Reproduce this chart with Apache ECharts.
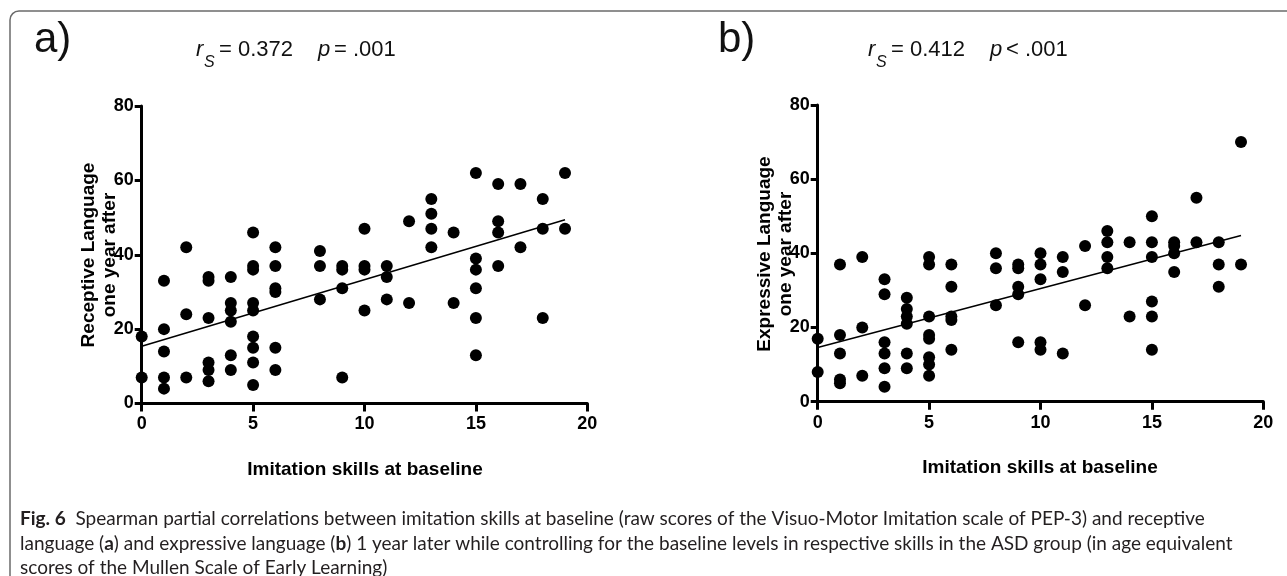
<!DOCTYPE html>
<html>
<head>
<meta charset="utf-8">
<script src="https://cdn.jsdelivr.net/npm/echarts@6/dist/echarts.min.js"></script>
<style>
html,body{margin:0;padding:0;background:#fff;}
#chart{width:1287px;height:576px;}
</style>
</head>
<body>
<div id="chart"></div>
<script>
// ---- Data ----
const xTicks = [0, 5, 10, 15, 20];
const yTicks = [0, 20, 40, 60, 80];

// Panel a: imitation skills at baseline vs receptive language one year after
const imitationA = [0,0, 1,1,1,1,1, 2,2,2, 3,3,3,3,3,3, 4,4,4,4,4,4, 5,5,5,5,5,5,5,5,5, 6,6,6,6,6,6, 8,8,8, 9,9,9,9, 10,10,10,10, 11,11,11, 12,12, 13,13,13,13, 14,14, 15,15,15,15,15,15, 16,16,16,16, 17,17, 18,18,18, 19,19];
const receptive  = [18,7, 33,20,14,7,4, 42,24,7, 34,33,23,11,9,6, 34,27,25,22,13,9, 46,37,36,27,25,18,15,11,5, 42,37,31,30,15,9, 41,37,28, 37,36,31,7, 47,37,36,25, 37,34,28, 49,27, 55,51,47,42, 46,27, 62,39,36,31,23,13, 59,49,46,37, 59,42, 55,47,23, 62,47];
const trendA = [[0, 15.4], [19, 49.4]];

// Panel b: imitation skills at baseline vs expressive language one year after
const imitationB = [0,0, 1,1,1,1,1, 2,2,2, 3,3,3,3,3,3, 4,4,4,4,4,4, 5,5,5,5,5,5,5,5, 6,6,6,6,6, 8,8,8, 9,9,9,9,9, 10,10,10,10,10, 11,11,11, 12,12, 13,13,13,13, 14,14, 15,15,15,15,15,15, 16,16,16,16, 17,17, 18,18,18, 19,19];
const expressive = [17,8, 37,18,13,6,5, 39,20,7, 33,29,16,13,9,4, 28,25,23,21,13,9, 39,37,23,18,17,12,10,7, 37,31,23,22,14, 40,36,26, 37,36,31,29,16, 40,37,33,16,14, 39,35,13, 42,26, 46,43,39,36, 43,23, 50,43,39,27,23,14, 43,42,40,35, 55,43, 43,37,31, 70,37];
const trendB = [[0, 14.6], [19, 44.8]];

const statsA = {r: '= 0.372', p: '= .001'};
const statsB = {r: '= 0.412', p: '< .001'};
const panelLabels = ['a)', 'b)'];
const yTitlesA = ['Receptive Language', 'one year after'];
const yTitlesB = ['Expressive Language', 'one year after'];
const xTitle = 'Imitation skills at baseline';
const captionLines = [
  ['Fig. 6', '  Spearman partial correlations between imitation skills at baseline (raw scores of the Visuo-Motor Imitation scale of PEP-3) and receptive'],
  ['language (', 'a', ') and expressive language (', 'b', ') 1 year later while controlling for the baseline levels in respective skills in the ASD group (in age equivalent'],
  ['scores of the Mullen Scale of Early Learning)']
];

// ---- Chart ----
const chart = echarts.init(document.getElementById('chart'), null, {renderer: 'canvas'});
const AX = 'Liberation Sans, Arial, sans-serif';
const capFont = 'Lato, Noto Sans, sans-serif';

// fit caption font size so that the first caption line spans the same width as in the figure
const mctx = document.createElement('canvas').getContext('2d');
mctx.font = 'bold 100px ' + capFont;
let w100 = mctx.measureText(captionLines[0][0]).width;
mctx.font = '100px ' + capFont;
w100 += mctx.measureText(captionLines[0][1]).width;
const capSize = Math.max(12, Math.min(19, 100 * 1237 / w100));

function pairs(xs, ys) { return xs.map((x, i) => [x, ys[i]]); }

function xAxisDef(gi) {
  return {
    gridIndex: gi, type: 'value', min: xTicks[0], max: xTicks[xTicks.length-1], interval: xTicks[1]-xTicks[0],
    axisLine: {show: true, onZero: false, lineStyle: {color: '#000', width: 3}},
    axisTick: {show: true, inside: false, length: 8, lineStyle: {color: '#000', width: 3}},
    axisLabel: {color: '#000', fontFamily: AX, fontWeight: 'bold', fontSize: 18, margin: 12},
    splitLine: {show: false}
  };
}
function yAxisDef(gi) {
  return {
    gridIndex: gi, type: 'value', min: yTicks[0], max: yTicks[yTicks.length-1], interval: yTicks[1]-yTicks[0],
    axisLine: {show: true, onZero: false, lineStyle: {color: '#000', width: 3}},
    axisTick: {show: true, inside: false, length: 7, lineStyle: {color: '#000', width: 3}},
    axisLabel: {color: '#000', fontFamily: AX, fontWeight: 'bold', fontSize: 18, margin: 8},
    splitLine: {show: false}
  };
}

function statTexts(x0, stats) {
  const base = {fill: '#111', fontFamily: AX, fontSize: 22};
  return [
    {type: 'text', left: x0, top: 39, style: Object.assign({}, base, {text: 'r', fontStyle: 'italic'})},
    {type: 'text', left: x0 + 8, top: 55, style: Object.assign({}, base, {text: 'S', fontStyle: 'italic', fontSize: 16})},
    {type: 'text', left: x0 + 23, top: 39, style: Object.assign({}, base, {text: stats.r})},
    {type: 'text', left: x0 + 122, top: 39, style: Object.assign({}, base, {text: 'p', fontStyle: 'italic'})},
    {type: 'text', left: x0 + 138, top: 39, style: Object.assign({}, base, {text: stats.p})}
  ];
}

function rotTitle(x, y, text) {
  return {type: 'text', x: x, y: y, rotation: Math.PI/2,
    style: {text: text, fill: '#000', fontFamily: AX, fontWeight: 'bold', fontSize: 19, textAlign: 'center', textVerticalAlign: 'middle'}};
}

const capBase = {fill: '#231f20', fontFamily: capFont, fontSize: capSize};
const capRich = {b: Object.assign({}, capBase, {fontWeight: 'bold'}), n: Object.assign({}, capBase)};
function capLine(parts, y, firstBold) {
  const txt = parts.map((p, i) => ((i % 2 === 0) !== !!firstBold ? '{n|' : '{b|') + p + '}');
  return {type: 'text', x: 20, y: y, style: {text: txt.join(''), textVerticalAlign: 'middle', rich: capRich}};
}

const graphics = [
  {type: 'rect', shape: {x: 10, y: 11, width: 1320, height: 600, r: 9}, style: {fill: 'none', stroke: '#6b6b6b', lineWidth: 1.5}, z: -1},
  {type: 'text', left: 34, top: 19, style: {text: panelLabels[0], fill: '#111', fontFamily: AX, fontSize: 42}},
  {type: 'text', left: 718, top: 19, style: {text: panelLabels[1], fill: '#111', fontFamily: AX, fontSize: 42}},
  ...statTexts(196, statsA),
  ...statTexts(868, statsB),
  rotTitle(89, 255, yTitlesA[0]),
  rotTitle(110, 255, yTitlesA[1]),
  rotTitle(765, 254, yTitlesB[0]),
  rotTitle(786, 254, yTitlesB[1]),
  {type: 'text', x: 365, y: 470, style: {text: xTitle, fill: '#000', fontFamily: AX, fontWeight: 'bold', fontSize: 19, textAlign: 'center', textVerticalAlign: 'middle'}},
  {type: 'text', x: 1040, y: 468, style: {text: xTitle, fill: '#000', fontFamily: AX, fontWeight: 'bold', fontSize: 19, textAlign: 'center', textVerticalAlign: 'middle'}},
  capLine(captionLines[0], 519, true),
  capLine(captionLines[1], 544, false),
  capLine(captionLines[2], 568, false)
];

const dotStyle = {color: '#000', opacity: 1};
const option = {
  animation: false,
  backgroundColor: '#fff',
  grid: [
    {left: 141.7, top: 106, width: 445.6, height: 297.5},
    {left: 817.7, top: 105, width: 445.6, height: 296.7}
  ],
  xAxis: [xAxisDef(0), xAxisDef(1)],
  yAxis: [yAxisDef(0), yAxisDef(1)],
  series: [
    {type: 'scatter', xAxisIndex: 0, yAxisIndex: 0, data: pairs(imitationA, receptive), symbolSize: 12, itemStyle: dotStyle, clip: false, z: 3},
    {type: 'line', xAxisIndex: 0, yAxisIndex: 0, data: trendA, symbol: 'none', lineStyle: {color: '#000', width: 1.5}, z: 2},
    {type: 'scatter', xAxisIndex: 1, yAxisIndex: 1, data: pairs(imitationB, expressive), symbolSize: 12, itemStyle: dotStyle, clip: false, z: 3},
    {type: 'line', xAxisIndex: 1, yAxisIndex: 1, data: trendB, symbol: 'none', lineStyle: {color: '#000', width: 1.5}, z: 2}
  ],
  graphic: graphics
};
chart.setOption(option);
</script>
</body>
</html>
